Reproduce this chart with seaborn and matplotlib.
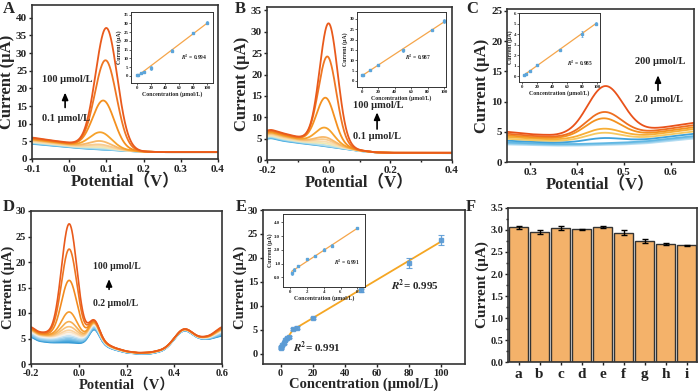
import numpy as np
import pandas as pd
import matplotlib
matplotlib.use('Agg')
import matplotlib.pyplot as plt
from matplotlib.ticker import MultipleLocator, AutoMinorLocator
import seaborn as sns

# ---------------- data ----------------
# Panel A (DPV, peak ~0.10 V)
a_knot_x = [-0.1, -0.05, 0.0, 0.05, 0.1, 0.15, 0.2, 0.25, 0.4]
a_base_low = [4.3, 3.8, 3.3, 2.9, 2.6, 2.3, 2.05, 1.95, 1.95]
a_base_top = [6.1, 5.3, 4.6, 4.0, 3.3, 2.6, 2.1, 1.95, 1.95]
a_frac = [0.0, 0.06, 0.12, 0.2, 0.3, 0.4, 0.5, 0.6, 0.7, 0.8, 0.9, 1.0]
a_amp = [0, 0, 0, 0.2, 0.4, 0.7, 1.0, 1.9, 4.3, 13.3, 24.7, 33.8]
a_pos = [0.085, 0.085, 0.085, 0.085, 0.085, 0.085, 0.085, 0.085, 0.085, 0.092, 0.098, 0.100]

# Panel B (DPV, peak ~0.0 V)
b_knot_x = [-0.2, -0.19, -0.15, -0.1, -0.05, 0.0, 0.05, 0.1, 0.15, 0.2, 0.4]
b_base_low = [4.9, 5.2, 4.5, 4.0, 3.6, 3.1, 2.6, 2.1, 1.8, 1.65, 1.6]
b_base_top = [6.8, 7.2, 6.3, 5.4, 4.9, 4.3, 3.3, 2.3, 1.8, 1.7, 1.7]
b_frac = [0.0, 0.06, 0.12, 0.2, 0.3, 0.4, 0.5, 0.6, 0.7, 0.8, 0.9, 1.0]
b_amp = [0, 0, 0, 0, 0.3, 0.6, 1.0, 1.4, 3.5, 10.4, 20.0, 27.7]
b_pos = [-0.012, -0.012, -0.012, -0.012, -0.012, -0.012, -0.012, -0.012, -0.012, -0.01, -0.004, 0.0]

# Panel C (DPV, peak ~0.46 V)
c_knot_x = [0.25, 0.3, 0.35, 0.4, 0.45, 0.5, 0.55, 0.6, 0.65]
c_base_low = [2.9, 2.8, 2.7, 2.7, 2.8, 2.9, 3.1, 3.5, 3.9]
c_base_top = [5.0, 4.6, 4.4, 4.4, 4.6, 4.9, 5.3, 5.9, 6.5]
c_frac = [0.0, 0.08, 0.16, 0.3, 0.45, 0.6, 0.72, 0.85, 1.0]
c_amp = [0, 0, 0, 0.6, 1.2, 1.6, 3.1, 3.9, 7.9]
c_pos = [0.46, 0.46, 0.46, 0.455, 0.455, 0.455, 0.455, 0.457, 0.46]

# Panel D (DPV, three peaks)
d_knot_x = [-0.2, -0.17, -0.12, -0.04, 0.0, 0.1, 0.15, 0.2, 0.25, 0.3, 0.35, 0.4, 0.5, 0.55, 0.6]
d_base_low = [5.4, 4.5, 4.2, 4.1, 4.0, 3.6, 2.8, 2.2, 2.0, 2.0, 2.5, 3.6, 4.6, 4.9, 5.6]
d_base_top = [7.4, 6.3, 6.0, 6.0, 5.8, 4.3, 3.2, 2.5, 2.2, 2.3, 2.8, 3.8, 4.9, 5.6, 7.4]
d_frac = [0.0, 0.05, 0.1, 0.15, 0.2, 0.3, 0.4, 0.5, 0.6, 0.65, 0.7, 0.75, 0.8, 0.85, 0.92, 1.0]
d_amp = [0.1, 0.2, 0.3, 0.4, 0.5, 0.6, 0.7, 0.8, 1.0, 1.3, 1.9, 2.8, 4.6, 10.7, 16.7, 21.5]
d_pos = -0.04
d_p2_amp = [3.0, 3.7]   # peak at 0.065 V (lowest, highest curve)
d_p3_amp = [2.5, 2.6]   # peak at 0.44 V

# Calibration insets
a_ins_conc = [0.1, 1, 5, 10, 20, 50, 80, 100]
a_ins_curr = [0.3, 0.8, 1.7, 2.5, 4.5, 14.5, 24.5, 30.5]
a_ins_err = [0.2, 0.2, 0.3, 0.3, 1.0, 0.8, 0.3, 0.6]
b_ins_conc = [0.1, 1, 10, 20, 50, 85, 100]
b_ins_curr = [2.8, 3.0, 5.2, 7.5, 14.8, 24.5, 29.0]
b_ins_err = [0.2, 0.2, 0.2, 0.3, 0.6, 0.3, 1.0]
c_ins_conc = [2, 5, 10, 20, 50, 80, 98]
c_ins_curr = [0.05, 0.15, 0.5, 1.05, 2.5, 4.0, 5.0]
c_ins_err = [0.05, 0.05, 0.05, 0.1, 0.05, 0.25, 0.1]

# Panel E
e_conc = [0.2, 0.5, 1, 2, 3, 4, 5, 8, 10, 20, 50, 80, 100]
e_curr = [1.2, 1.5, 1.8, 2.3, 2.8, 3.3, 3.6, 5.2, 5.5, 7.5, 13.3, 19.0, 23.8]
e_err = [0.2, 0.2, 0.15, 0.15, 0.15, 0.2, 0.2, 0.2, 0.3, 0.3, 0.3, 1.0, 1.0]
e_ins_conc = [0.2, 0.5, 1, 2, 3, 4, 5, 8]
e_ins_curr = [0.3, 0.55, 0.8, 1.3, 1.55, 2.0, 2.3, 3.55]
e_ins_err = [0.1, 0.1, 0.05, 0.05, 0.05, 0.12, 0.12, 0.03]

# Panel F
f_labels = ['a', 'b', 'c', 'd', 'e', 'f', 'g', 'h', 'i']
f_vals = [3.06, 2.96, 3.05, 3.02, 3.07, 2.94, 2.75, 2.68, 2.65]
f_err = [0.03, 0.05, 0.05, 0.01, 0.03, 0.05, 0.04, 0.03, 0.01]

# colours (low -> high concentration)
pal12 = ['#3FA9DE', '#5DB8E5', '#86CAEB', '#B9DFE9', '#EEE9B5', '#F9DDB0', '#F8CC90',
         '#F7B869', '#F6A22B', '#F4901F', '#EF7622', '#E95A1C']
pal9 = ['#B5DDF2', '#8ECBEB', '#62B8E3', '#3FA2DA', '#F6C860', '#F7AE35', '#F3921F',
        '#EE6E20', '#E9521A']
pal16 = ['#2E95D3', '#3FA2DA', '#55AEDF', '#6DBAE4', '#86C6E9', '#A2D3EE', '#C4E3F3',
         '#F4F1EA', '#FBE3C4', '#FAD3A0', '#F8C27A', '#F6AE50', '#F59A2C', '#F28A1E',
         '#EE7420', '#E95A1C']

# ---------------- style ----------------
sns.set_theme(style='ticks')
plt.rcParams['font.family'] = ['Liberation Serif', 'Noto Sans CJK SC', 'DejaVu Sans']
plt.rcParams['mathtext.fontset'] = 'stix'
plt.rcParams['font.weight'] = 'bold'
plt.rcParams['axes.labelweight'] = 'bold'
plt.rcParams['axes.unicode_minus'] = False
plt.rcParams['axes.linewidth'] = 1.2
plt.rcParams['axes.edgecolor'] = '#333333'
plt.rcParams['xtick.major.size'] = 2.5
plt.rcParams['ytick.major.size'] = 2.5
plt.rcParams['xtick.minor.size'] = 1.5
plt.rcParams['ytick.minor.size'] = 1.5
plt.rcParams['xtick.color'] = '#222222'
plt.rcParams['ytick.color'] = '#222222'

W, H = 700, 391
fig = plt.figure(figsize=(7.0, 3.91), dpi=100)


def ax_px(l, t, r, b):
    return fig.add_axes([l / W, 1 - b / H, (r - l) / W, (b - t) / H])


def smooth(y, s=6):
    k = np.arange(-3 * s, 3 * s + 1)
    ker = np.exp(-0.5 * (k / s) ** 2)
    ker /= ker.sum()
    yp = np.concatenate([np.full(3 * s, y[0]), y, np.full(3 * s, y[-1])])
    return np.convolve(yp, ker, mode='valid')


def build(xlim, knots, low, top, fracs, amps, poss, sig, extras=()):
    xg = np.linspace(xlim[0], xlim[1], 500)
    lo = smooth(np.interp(xg, knots, low))
    hi = smooth(np.interp(xg, knots, top))
    frames = []
    for i, f in enumerate(fracs):
        p = poss[i] if np.ndim(poss) else poss
        y = lo * (1 - f) + hi * f + amps[i] * np.exp(-0.5 * ((xg - p) / sig) ** 2)
        for (pc, ps, pa) in extras:
            y = y + (pa[0] * (1 - f) + pa[1] * f) * np.exp(-0.5 * ((xg - pc) / ps) ** 2)
        frames.append(pd.DataFrame({'Potential': xg, 'Current': y, 'curve': i}))
    return pd.concat(frames, ignore_index=True)


def style_main(ax, xlabel, ylabel, labfs=12, tickfs=8, xpad=2, xlabpad=0):
    ax.set_xlabel(xlabel, fontsize=labfs, fontweight='bold', labelpad=xlabpad)
    ax.set_ylabel(ylabel, fontsize=labfs, fontweight='bold', labelpad=0.5)
    ax.tick_params(labelsize=tickfs, pad=1, width=1)
    ax.tick_params(axis='x', pad=xpad)
    for lab in ax.get_xticklabels() + ax.get_yticklabels():
        lab.set_fontweight('bold')
    for s in ax.spines.values():
        s.set_linewidth(1.2)


def dpv(ax, df, pal, xlim, ylim, xstep, ystep, lw=1.3):
    sns.lineplot(data=df, x='Potential', y='Current', hue='curve', palette=pal,
                 estimator=None, sort=False, legend=False, lw=lw, ax=ax)
    ax.set_xlim(*xlim)
    ax.set_ylim(*ylim)
    ax.xaxis.set_major_locator(MultipleLocator(xstep))
    ax.yaxis.set_major_locator(MultipleLocator(ystep))


R2 = r'$\boldsymbol{R}^{\mathbf{2}}$'


def inset(rect, conc, curr, err, xlim, ylim, yticks, r2, r2pos, xt=None, yfmt=None):
    ax = ax_px(*rect)
    sns.regplot(x=conc, y=curr, scatter=False, ci=None, truncate=True, ax=ax,
                line_kws=dict(color='#F5A54A', lw=0.9))
    ax.errorbar(conc, curr, yerr=err, fmt='s', ms=1.8, color='#5DA5DA',
                ecolor='#5DA5DA', elinewidth=0.6, capsize=0.8, capthick=0.5)
    ax.set_xlim(*xlim)
    ax.set_ylim(*ylim)
    ax.set_yticks(yticks)
    if xt is not None:
        ax.set_xticks(xt)
    if yfmt:
        ax.set_yticklabels([yfmt.format(v) for v in yticks])
    ax.tick_params(labelsize=3.5, pad=0.8, length=1.2, width=0.5)
    ax.set_xlabel('Concentration (μmol/L)', fontsize=4.2, labelpad=0.8)
    ax.set_ylabel('Current (μA)', fontsize=4.2, labelpad=0.8)
    for s in ax.spines.values():
        s.set_linewidth(0.7)
    ax.text(r2pos[0], r2pos[1], r2 + ' = ' + r2pos[2], fontsize=4, fontweight='bold')
    return ax


def conc_arrow(ax, xt, ytop, ybot, xa, ya0, ya1, txt_top, txt_bot, fs=7.5):
    ax.text(xt, ytop, txt_top, fontsize=fs, fontweight='bold', va='center')
    ax.text(xt, ybot, txt_bot, fontsize=fs, fontweight='bold', va='center')
    ax.annotate('', xy=(xa, ya1), xytext=(xa, ya0),
                arrowprops=dict(arrowstyle='-|>,head_length=0.35,head_width=0.15',
                                color='black', lw=1.2))


# ---------------- Panel A ----------------
axA = ax_px(32, 5, 218, 159)
dfA = build((-0.1, 0.4), a_knot_x, a_base_low, a_base_top, a_frac, a_amp, a_pos, 0.029)
dpv(axA, dfA, pal12, (-0.1, 0.4), (0, 43.6), 0.1, 5)
style_main(axA, 'Potential（V）', 'Current (μA)')
conc_arrow(axA, -0.072, 22.4, 11.6, -0.011, 13.8, 19.6, '100 μmol/L', '0.1 μmol/L')
inset((131, 12, 213, 83), a_ins_conc, a_ins_curr, a_ins_err, (-8.5, 108), (-4, 36.5),
      [0, 5, 10, 15, 20, 25, 30, 35], R2, (62, 9, '0.994'),
      xt=[0, 20, 40, 60, 80, 100])

# ---------------- Panel B ----------------
axB = ax_px(267, 7, 452, 160)
dfB = build((-0.2, 0.4), b_knot_x, b_base_low, b_base_top, b_frac, b_amp, b_pos, 0.029)
dpv(axB, dfB, pal12, (-0.2, 0.4), (0, 35.8), 0.2, 5)
axB.xaxis.set_minor_locator(MultipleLocator(0.1))
style_main(axB, 'Potential（V）', 'Current (μA)')
conc_arrow(axB, 0.079, 12.7, 5.4, 0.157, 6.6, 11.8, '100 μmol/L', '0.1 μmol/L')
inset((357, 12, 446, 87), b_ins_conc, b_ins_curr, b_ins_err, (-6, 102.4), (-2.9, 33.3),
      [0, 5, 10, 15, 20, 25, 30], R2, (52, 10, '0.987'),
      xt=[0, 20, 40, 60, 80, 100])

# ---------------- Panel C ----------------
axC = ax_px(507, 9, 694, 162)
dfC = build((0.25, 0.65), c_knot_x, c_base_low, c_base_top, c_frac, c_amp, c_pos, 0.038)
dpv(axC, dfC, pal9, (0.25, 0.65), (0, 25.3), 0.1, 5)
style_main(axC, 'Potential（V）', 'Current (μA)')
conc_arrow(axC, 0.524, 16.6, 10.4, 0.573, 11.4, 14.8, '200 μmol/L', '2.0 μmol/L')
inset((519, 13, 600, 82), c_ins_conc, c_ins_curr, c_ins_err, (-4, 104), (-0.57, 6.0),
      [0, 1, 2, 3, 4, 5, 6], R2, (60, 1.0, '0.985'),
      xt=[0, 20, 40, 60, 80, 100])

# ---------------- Panel D ----------------
axD = ax_px(31, 211, 222, 364)
dfD = build((-0.2, 0.6), d_knot_x, d_base_low, d_base_top, d_frac, d_amp, d_pos, 0.032,
            extras=[(0.065, 0.022, d_p2_amp), (0.44, 0.035, d_p3_amp)])
dpv(axD, dfD, pal16, (-0.2, 0.6), (0, 30), 0.2, 5, lw=1.2)
style_main(axD, 'Potential（V）', 'Current (μA)', labfs=10.5, tickfs=7.5, xpad=1,
           xlabpad=-0.5)
conc_arrow(axD, 0.06, 19.2, 11.8, 0.127, 14.1, 17.2, '100 μmol/L', '0.2 μmol/L', fs=7)

# ---------------- Panel E ----------------
axE = ax_px(263, 210, 465, 364)
sns.regplot(x=e_conc[:8], y=e_curr[:8], scatter=False, ci=None, truncate=True, ax=axE,
            line_kws=dict(color='#F5A623', lw=1.3))
sns.regplot(x=e_conc[7:], y=e_curr[7:], scatter=False, ci=None, truncate=True, ax=axE,
            line_kws=dict(color='#F5A623', lw=1.3))
axE.errorbar(e_conc, e_curr, yerr=e_err, fmt='s', ms=3.5, color='#5B9BD5',
             ecolor='#5B9BD5', elinewidth=0.9, capsize=2, capthick=0.8, alpha=0.9)
axE.set_xlim(-11, 115)
axE.set_ylim(-2.1, 30)
axE.xaxis.set_major_locator(MultipleLocator(20))
axE.yaxis.set_major_locator(MultipleLocator(5))
style_main(axE, 'Concentration (μmol/L)', 'Current (μA)', labfs=10.5, tickfs=7.5, xpad=1,
           xlabpad=-0.5)
axE.text(69, 14.2, R2 + '= 0.995', fontsize=8, fontweight='bold', va='center')
axE.text(7.5, 1.3, R2 + '= 0.991', fontsize=8, fontweight='bold', va='center')
inset((283, 214, 365, 287), e_ins_conc, e_ins_curr, e_ins_err, (-0.83, 8.9), (-0.7, 4.6),
      [0, 1, 2, 3, 4], R2, (5.2, 0.9, '0.991'),
      xt=[0, 2, 4, 6, 8], yfmt='{:.1f}')

# ---------------- Panel F ----------------
axF = ax_px(508, 208, 697, 362)
sns.barplot(x=f_labels, y=f_vals, color='#F4B26A', edgecolor='#333333', linewidth=1.0,
            width=0.86, saturation=1, ax=axF)
axF.errorbar(f_labels, f_vals, yerr=f_err, fmt='none', ecolor='black', elinewidth=1,
             capsize=2, capthick=1)
axF.set_ylim(0, 3.5)
axF.set_xlim(-0.5, 8.5)
axF.yaxis.set_major_locator(MultipleLocator(0.5))
axF.yaxis.set_minor_locator(AutoMinorLocator(2))
style_main(axF, '', 'Current (μA)', labfs=11, tickfs=7.5)
axF.tick_params(axis='x', labelsize=11, length=2.5, pad=1.5)
for lab in axF.get_xticklabels():
    lab.set_fontweight('bold')

# panel letters
for letter, (px, py) in {'A': (3, 1), 'B': (235, 1), 'C': (466, 1),
                         'D': (3, 199), 'E': (236, 199), 'F': (466, 199)}.items():
    fig.text(px / W, 1 - py / H, letter, fontsize=12, fontweight='bold', va='top', ha='left')

fig.savefig('out.png', dpi=100)
